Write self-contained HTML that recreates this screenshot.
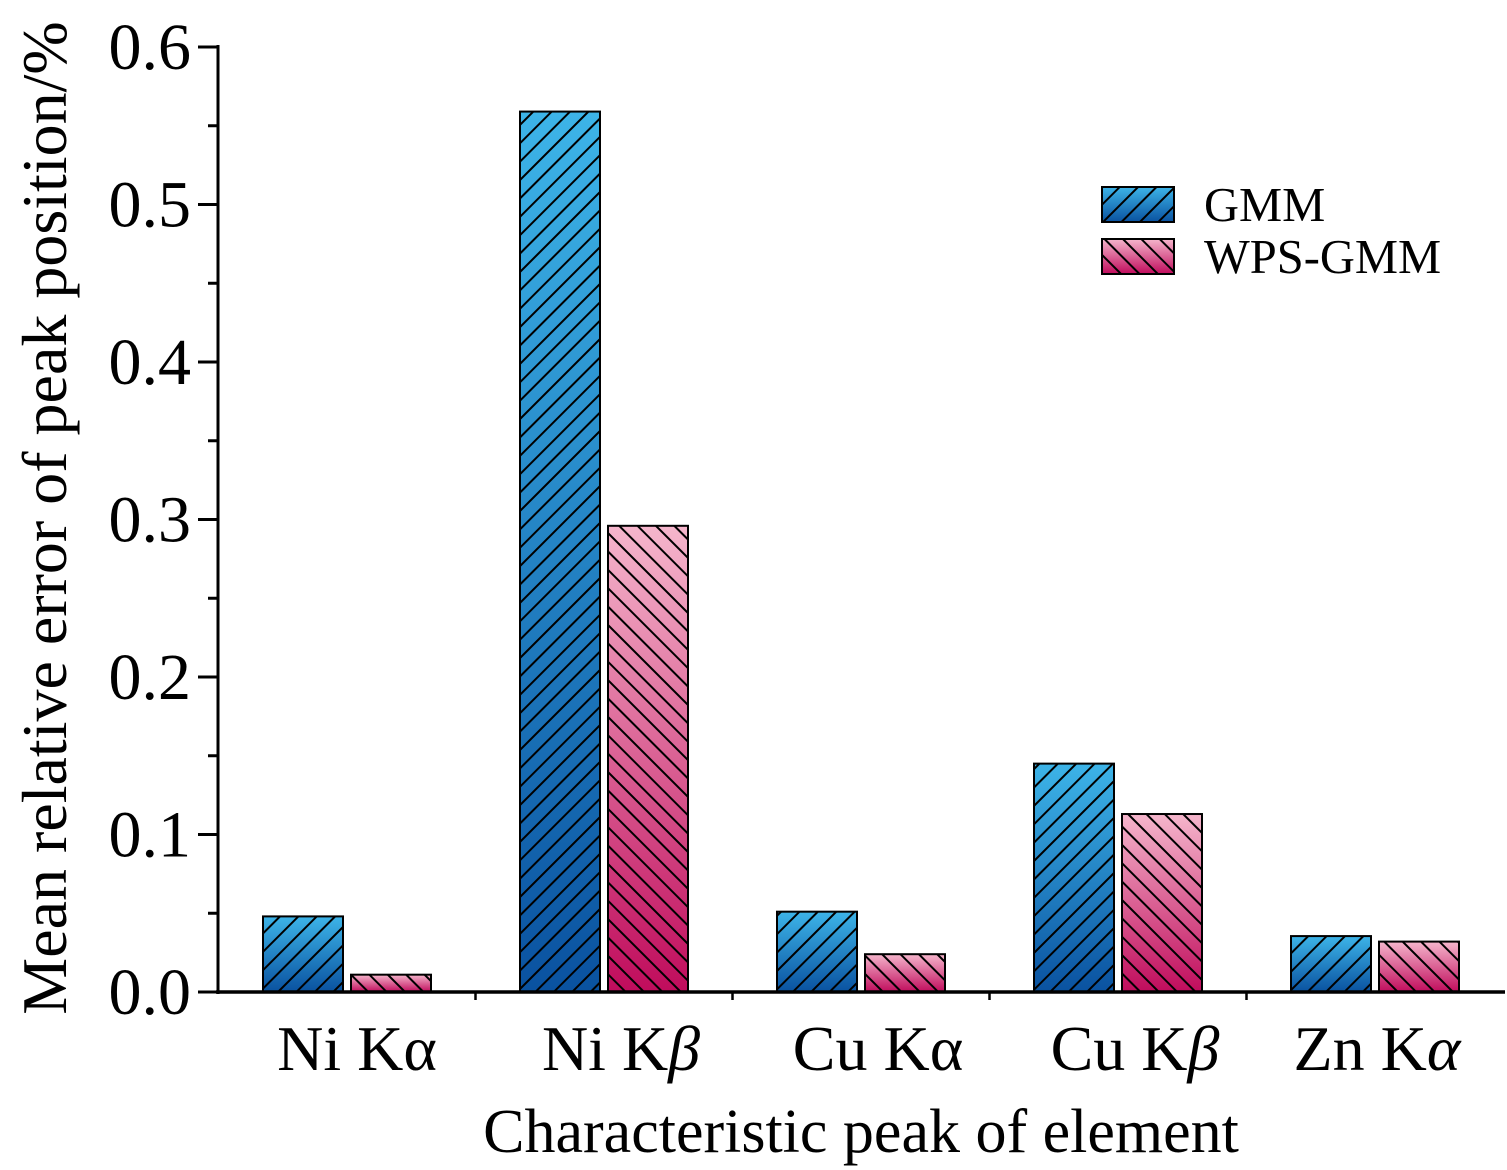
<!DOCTYPE html>
<html><head><meta charset="utf-8"><style>body{margin:0;background:#fff}svg{display:block}text{font-family:"Liberation Serif",serif;fill:#000}</style></head>
<body>
<svg id="chart" width="1507" height="1170" viewBox="0 0 1507 1170">
<defs>
<linearGradient id="gBlue" x1="0" y1="0" x2="0" y2="1"><stop offset="0" stop-color="#3db4e8"/><stop offset="1" stop-color="#0a52a0"/></linearGradient>
<linearGradient id="gPink" x1="0" y1="0" x2="0" y2="1"><stop offset="0" stop-color="#f5b6cc"/><stop offset="1" stop-color="#c00c5c"/></linearGradient>
<pattern id="hBlue" width="13" height="13" patternUnits="userSpaceOnUse" patternTransform="rotate(45)"><line x1="0" y1="0" x2="0" y2="13" stroke="#000" stroke-width="4"/></pattern>
<pattern id="hPink" width="13" height="13" patternUnits="userSpaceOnUse" patternTransform="rotate(-45)"><line x1="0" y1="0" x2="0" y2="13" stroke="#000" stroke-width="4"/></pattern>
</defs>
<g id="bars"></g>
<g id="axes"></g>
<text x="0" y="0" transform="translate(66,518) rotate(-90)" text-anchor="middle" font-size="64">Mean relative error of peak position/%</text>
<text x="861" y="1152" text-anchor="middle" font-size="62">Characteristic peak of element</text>
<g>
<rect x="1102" y="187" width="72" height="35" fill="url(#gBlue)" stroke="#000" stroke-width="2"/>
<rect x="1102" y="187" width="72" height="35" fill="url(#hBlue)"/>
<text x="1204" y="221" font-size="48.5">GMM</text>
<rect x="1102" y="239" width="72" height="35" fill="url(#gPink)" stroke="#000" stroke-width="2"/>
<rect x="1102" y="239" width="72" height="35" fill="url(#hPink)"/>
<text x="1204" y="273" font-size="48.5">WPS-GMM</text>
</g>
</svg>
<script>
const categories=["Ni Kα","Ni Kβ","Cu Kα","Cu Kβ","Zn Kα"];
const gmmValues=[0.048,0.559,0.051,0.145,0.0355];
const wpsValues=[0.011,0.296,0.024,0.113,0.032];
const yTicks=[0,0.1,0.2,0.3,0.4,0.5,0.6];
const yTickLabels=["0.0","0.1","0.2","0.3","0.4","0.5","0.6"];
const NS="http://www.w3.org/2000/svg";
const x0=218,x1=1505,yB=992,yT=47,step=257,first=347;
const y=v=>yB-(v/0.6)*(yB-yT);
const xc=i=>first+i*step;
function el(tag,at,parent){const e=document.createElementNS(NS,tag);for(const k in at)e.setAttribute(k,at[k]);parent.appendChild(e);return e;}
const bars=document.getElementById('bars'),axes=document.getElementById('axes');
categories.forEach((c,i)=>{
 [[gmmValues[i],-84,'gBlue','hBlue','gmm'],[wpsValues[i],4,'gPink','hPink','wps-gmm']].forEach(s=>{
  const bx=xc(i)+s[1],by=y(s[0]),h=yB-by;
  const r=el('rect',{x:bx,y:by,width:80,height:h,fill:'url(#'+s[2]+')',stroke:'#000','stroke-width':2},bars);
  
  
  el('rect',{x:bx,y:by,width:80,height:h,fill:'url(#'+s[3]+')'},bars);
 });
 const t=el('text',{x:xc(i)+(i===0?10:i===4?2:17),y:1070,'text-anchor':'middle','font-size':64},axes);
 t.textContent=c;
 if(c.includes('β')){t.textContent='';t.appendChild(document.createTextNode(c.slice(0,-1)));const ts=el('tspan',{'font-style':'italic'},t);ts.textContent='β';}
 if(c.startsWith('Zn')){t.textContent='';t.appendChild(document.createTextNode(c.slice(0,-1)));const ts=el('tspan',{'font-style':'italic'},t);ts.textContent='α';}
 
 
 if(i<categories.length-1) el('line',{x1:xc(i)+step/2,x2:xc(i)+step/2,y1:yB,y2:yB+8,stroke:'#000','stroke-width':2.5},axes);
});
yTicks.forEach((v,i)=>{
 el('line',{x1:x0-20,x2:x0,y1:y(v),y2:y(v),stroke:'#000','stroke-width':3},axes);
 if(i<yTicks.length-1) el('line',{x1:x0-10,x2:x0,y1:y(v+0.05),y2:y(v+0.05),stroke:'#000','stroke-width':3},axes);
 const t=el('text',{x:x0-27,y:y(v)+22,'text-anchor':'end','font-size':66},axes);
 t.textContent=yTickLabels[i];
 
 
});
const ya=el('line',{x1:x0,x2:x0,y1:yT-2,y2:yB+2,stroke:'#000','stroke-width':3},axes);


const xa=el('line',{x1:x0-2,x2:x1,y1:yB,y2:yB,stroke:'#000','stroke-width':3.5},axes);


</script>
</body></html>
